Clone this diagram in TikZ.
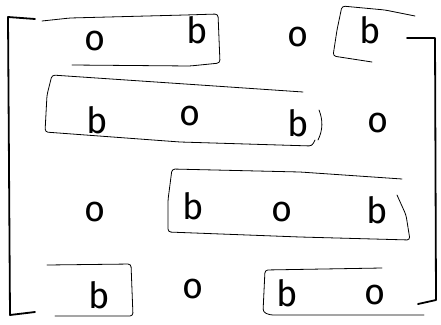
\documentclass[tikz,border=0pt]{standalone}
\usepackage{fontspec}
\setmainfont{Fira Sans}
\begin{document}
\begin{tikzpicture}[x=1pt,y=-1pt,
  letter/.style={inner sep=0pt,font=\fontsize{36}{36}\selectfont,anchor=base},
  bracket/.style={line width=1.8pt,line cap=round,line join=round},
  group/.style={line width=0.8pt,line cap=round,line join=round,rounded corners=3pt}]
\useasboundingbox (0,0) rectangle (441,324);
% brackets
\draw[bracket] (35,19) -- (8,17) -- (10,315) -- (35,312);
\draw[bracket] (407,38) -- (435,38) -- (436,300) -- (418,304);
% letters (row 1..4)
\node[letter] (a11) at (95,50) {o};
\node[letter] (a12) at (197,43) {b};
\node[letter] (a13) at (298,46) {o};
\node[letter] (a14) at (370,43) {b};
\node[letter] (a21) at (97,133) {b};
\node[letter] (a22) at (190,125) {o};
\node[letter] (a23) at (298,136) {b};
\node[letter] (a24) at (378,132) {o};
\node[letter] (a31) at (95,221) {o};
\node[letter] (a32) at (193,219) {b};
\node[letter] (a33) at (282,221) {o};
\node[letter] (a34) at (377,223) {b};
\node[letter] (a41) at (99,308) {b};
\node[letter] (a42) at (193,298) {o};
\node[letter] (a43) at (287,306) {b};
\node[letter] (a44) at (375,304) {o};
% group outlines
\draw[group] (42,21) -- (70,18) -- (185,15) -- (218,14) -- (220,63) -- (190,66) -- (72,65);
\draw[group] (415,16) -- (385,10) -- (342,6) -- (337,30) -- (333,56) -- (372,62);
\draw[group] (303,92) -- (200,85) -- (52,75) -- (47,95) -- (45,132) -- (180,142) -- (312,146) -- (315,140);
\draw[line width=0.8pt,line cap=round] (319,110) .. controls (323,120) and (323,130) .. (318,140);
\draw[group] (402,179) -- (300,172) -- (172,169) -- (168,200) -- (168,232) -- (300,237) -- (410,240) -- (406,215) -- (397,195);
\draw[group] (47,265) -- (131,264) -- (133,316) -- (55,316);
\draw[group] (382,268) -- (265,270) -- (263,312) -- (270,315) -- (424,315);
\end{tikzpicture}
\end{document}
